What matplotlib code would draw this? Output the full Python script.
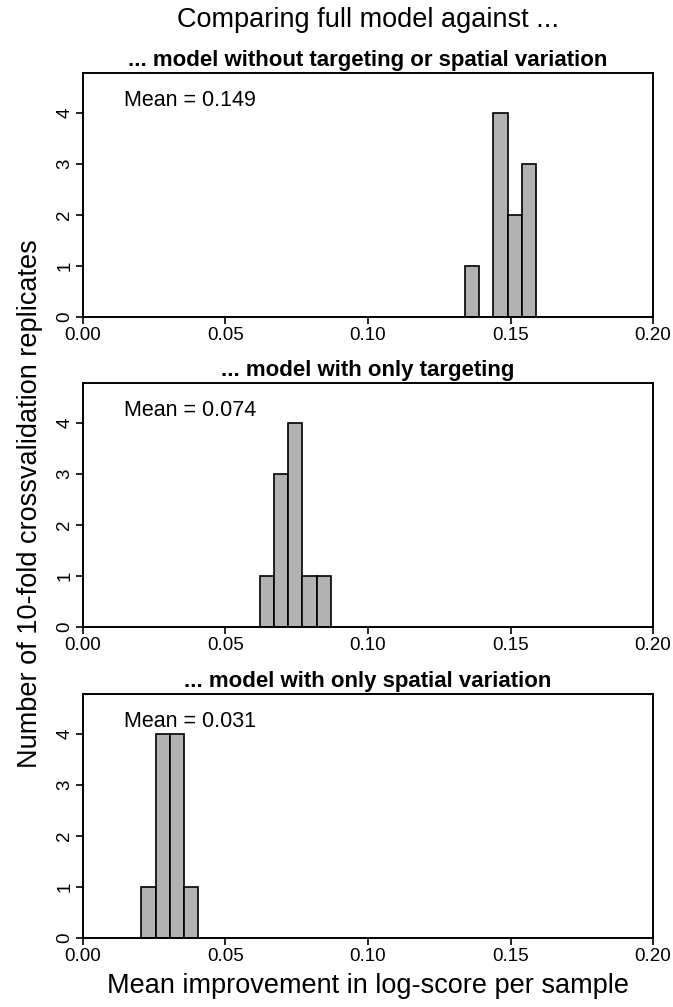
import matplotlib.pyplot as plt
import numpy as np

plt.rcParams['font.family'] = ['Liberation Sans', 'DejaVu Sans']

# histogram bins (left edges) and counts, one panel per comparison
titles = [
    "... model without targeting or spatial variation",
    "... model with only targeting",
    "... model with only spatial variation",
]
edges_1 = [0.134, 0.139, 0.144, 0.149, 0.154, 0.159]
counts_1 = [1, 0, 4, 2, 3]
edges_2 = [0.062, 0.067, 0.072, 0.077, 0.082, 0.087]
counts_2 = [1, 3, 4, 1, 1]
edges_3 = [0.0205, 0.0255, 0.0305, 0.0355, 0.0405]
counts_3 = [1, 4, 4, 1]
means = ["0.149", "0.074", "0.031"]

x_ticks = [0.00, 0.05, 0.10, 0.15, 0.20]
y_ticks = [0, 1, 2, 3, 4]

fig = plt.figure(figsize=(6.73, 10.07), dpi=100)

left, width, height = 0.1233, 0.847, 0.2423
bottoms = [0.6852, 0.3774, 0.0685]

panels = [(edges_1, counts_1), (edges_2, counts_2), (edges_3, counts_3)]
for i, (edges, counts) in enumerate(panels):
    ax = fig.add_axes([left, bottoms[i], width, height])
    edges = np.array(edges)
    counts = np.array(counts)
    keep = counts > 0
    ax.bar(edges[:-1][keep], counts[keep], width=np.diff(edges)[keep], align='edge',
           color='#b2b2b2', edgecolor='black', linewidth=1.2, zorder=2)
    ax.set_xlim(0, 0.20)
    ax.set_ylim(0, 4.78)
    ax.set_xticks(x_ticks)
    ax.set_xticklabels([f"{t:.2f}" for t in x_ticks])
    ax.set_yticks(y_ticks)
    ax.set_yticklabels([str(t) for t in y_ticks], rotation=90, va='center')
    ax.tick_params(direction='out', length=5, width=1.2, labelsize=13.5, pad=2)
    for s in ax.spines.values():
        s.set_linewidth(1.4)
    ax.set_title(titles[i], fontsize=16, fontweight='bold', pad=5)
    ax.text(0.0144, 4.25, f"Mean = {means[i]}", fontsize=15.5, va='center', ha='left')

center_x = left + width / 2
fig.text(center_x, 0.993, "Comparing full model against ...", fontsize=19.5, ha='center', va='top')
fig.text(0.045, 0.5, "Number of 10-fold crossvalidation replicates", fontsize=19.5,
         rotation=90, ha='center', va='center')
fig.text(center_x, 0.021, "Mean improvement in log-score per sample", fontsize=19.5,
         ha='center', va='center')

fig.savefig("out.png", dpi=100)
